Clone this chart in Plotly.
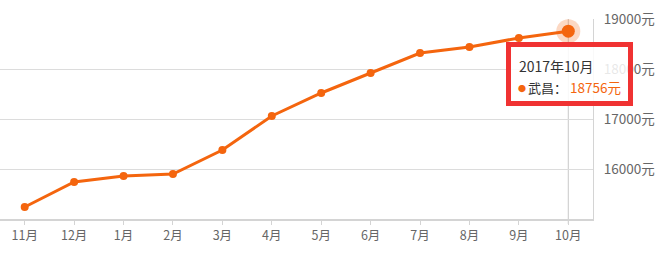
import plotly.graph_objects as go

months = ["11月", "12月", "1月", "2月", "3月", "4月", "5月", "6月", "7月", "8月", "9月", "10月"]
prices = [15240, 15740, 15860, 15900, 16380, 17060, 17520, 17920, 18320, 18440, 18620, 18756]
y_ticks = [16000, 17000, 18000, 19000]
y_tick_text = ["16000元", "17000元", "18000元", "19000元"]
district = "武昌"
tip_title = "2017年10月"

ORANGE = "#f4650e"
W, H = 659, 256
ML, MR, MT, MB = 0, 66, 19, 37
PW, PH = W - ML - MR, H - MT - MB

def px(x):
    return (x - ML) / PW

def py(y):
    return (H - MB - y) / PH

fig = go.Figure()
fig.add_trace(go.Scatter(
    x=months, y=prices, mode="lines+markers",
    line=dict(color=ORANGE, width=3),
    marker=dict(color=ORANGE, size=8),
    hoverinfo="skip", cliponaxis=False,
))
fig.add_trace(go.Scatter(
    x=[months[-1]], y=[prices[-1]], mode="markers",
    marker=dict(color="rgba(244,101,14,0.25)", size=24),
    hoverinfo="skip", cliponaxis=False,
))
fig.add_trace(go.Scatter(
    x=[months[-1]], y=[prices[-1]], mode="markers",
    marker=dict(color=ORANGE, size=13),
    hoverinfo="skip", cliponaxis=False,
))

font = "Noto Sans CJK SC, Microsoft YaHei, sans-serif"

shapes = [
    # crosshair
    dict(type="line", xref="x", yref="paper", x0=months[-1], x1=months[-1], y0=-0.025, y1=1,
         line=dict(color="#c8c8c8", width=1), layer="below"),
    # tooltip box
    dict(type="rect", xref="paper", yref="paper",
         x0=px(508.5), x1=px(630.5), y0=py(103.5), y1=py(44.5),
         fillcolor="rgba(255,255,255,0.85)", line=dict(color="#f03232", width=5), layer="above"),
]

annotations = [
    dict(xref="paper", yref="paper", x=px(517), y=py(66), xanchor="left", yanchor="middle",
         text=tip_title, showarrow=False, font=dict(family=font, size=14, color="#333")),
    dict(xref="paper", yref="paper", x=px(516), y=py(88), xanchor="left", yanchor="middle",
         text="●", showarrow=False, font=dict(family=font, size=8, color=ORANGE)),
    dict(xref="paper", yref="paper", x=px(526), y=py(87), xanchor="left", yanchor="middle",
         text=district + "：", showarrow=False, font=dict(family=font, size=13, color="#333")),
    dict(xref="paper", yref="paper", x=px(568), y=py(87), xanchor="left", yanchor="middle",
         text=f"{prices[-1]}元", showarrow=False, font=dict(family=font, size=13.5, color=ORANGE)),
]

fig.update_layout(
    width=W, height=H,
    margin=dict(l=ML, r=MR, t=MT, b=MB, pad=0),
    paper_bgcolor="white", plot_bgcolor="white",
    showlegend=False,
    font=dict(family=font, size=12, color="#666"),
    shapes=shapes, annotations=annotations,
    xaxis=dict(
        type="category", range=[-0.5, len(months) - 0.5],
        showgrid=False, showline=True, linecolor="#d4d4d4", linewidth=2,
        ticks="outside", ticklen=4, tickcolor="#d4d4d4", tickwidth=1,
        tickfont=dict(family=font, size=12.5, color="#666"),
        fixedrange=True, zeroline=False,
    ),
    yaxis=dict(
        side="right", range=[15000, 19000],
        tickvals=y_ticks, ticktext=y_tick_text,
        showgrid=True, gridcolor="#dcdcdc", gridwidth=1,
        showline=True, linecolor="#d4d4d4", linewidth=1,
        ticks="outside", ticklen=7, tickcolor="rgba(0,0,0,0)",
        tickfont=dict(family=font, size=13.5, color="#666"),
        zeroline=False, fixedrange=True,
    ),
)

fig.write_html("out.html")
